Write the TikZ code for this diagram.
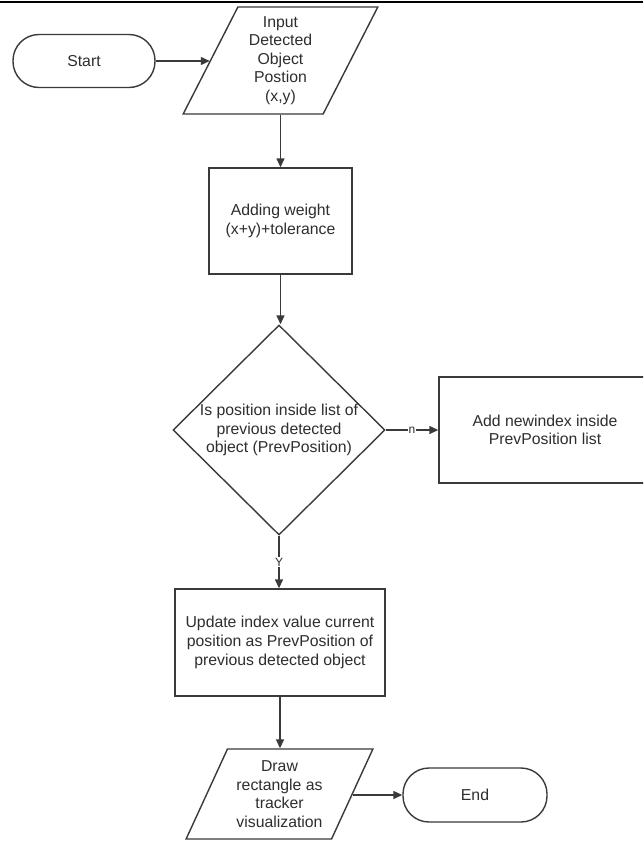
\documentclass[tikz,border=0pt]{standalone}
\usepackage{fontspec}
\setmainfont{Liberation Sans}
\usetikzlibrary{shapes.geometric,arrows.meta}
\definecolor{ln}{HTML}{3A3A3A}
\definecolor{tx}{HTML}{2E2E2E}
\tikzset{
  base/.style={draw=ln, line width=1.4pt, text=tx, align=center, inner sep=2pt,
    font=\fontsize{15.8}{18.6}\selectfont},
  term/.style={base, rectangle, rounded corners=26pt},
  procbox/.style={base, rectangle},
  iobox/.style={base, trapezium, trapezium stretches=true, trapezium left angle=#1, trapezium right angle=180-#1},
  decbox/.style={base, diamond, inner sep=0pt},
  conn/.style={draw=ln, line width=1.4pt, -{Triangle[length=9pt,width=8pt]}},
  lbl/.style={fill=white, text=tx, inner sep=1pt, font=\fontsize{12}{13}\selectfont}
}
\begin{document}
\begin{tikzpicture}[x=1pt,y=-1pt]
\clip (0,0) rectangle (643,841);
\fill[white] (0,0) rectangle (643,841);
\draw[black, line width=2.6pt] (0,1.8) -- (643,1.8);

\node[term, minimum width=142, minimum height=53] (start) at (84,61) {Start};
\node[iobox=65, minimum width=195, minimum height=107] (inp) at (280.5,60.5)
  {Input\\Detected\\Object\\Postion\\(x,y)};
\node[procbox, minimum width=143, minimum height=106] (add) at (280.5,221)
  {Adding weight\\(x+y)+tolerance};
\node[decbox, minimum width=212, minimum height=210,
  label={[text=tx, align=center, font=\fontsize{15.8}{18.6}\selectfont]center:Is position inside list of\\previous detected\\object (PrevPosition)}] (dec) at (279,430) {};
\node[procbox, minimum width=212, minimum height=106] (newidx) at (545,430)
  {Add newindex inside\\PrevPosition list};
\node[procbox, minimum width=210, minimum height=107] (upd) at (280,642.5)
  {Update index value current\\position as PrevPosition of\\previous detected object};
\node[iobox=63.2, minimum width=187, minimum height=90] (drw) at (279.5,794)
  {Draw\\rectangle as\\tracker\\visualization};
\node[term, minimum width=144, minimum height=54] (fin) at (475,795) {End};

\draw[conn] (start.east) -- (start.east -| inp.west);
\draw[conn] (inp.south -| add.north) -- (add.north);
\draw[conn] (add.south) -- (add.south |- dec.north);
\draw[conn] (dec.east) -- node[lbl] {n} (newidx.west);
\draw[conn] (dec.south) -- node[lbl] {Y} (dec.south |- upd.north);
\draw[conn] (upd.south) -- (upd.south |- drw.north);
\draw[conn] (fin.west -| drw.east) -- (fin.west);
\end{tikzpicture}
\end{document}
